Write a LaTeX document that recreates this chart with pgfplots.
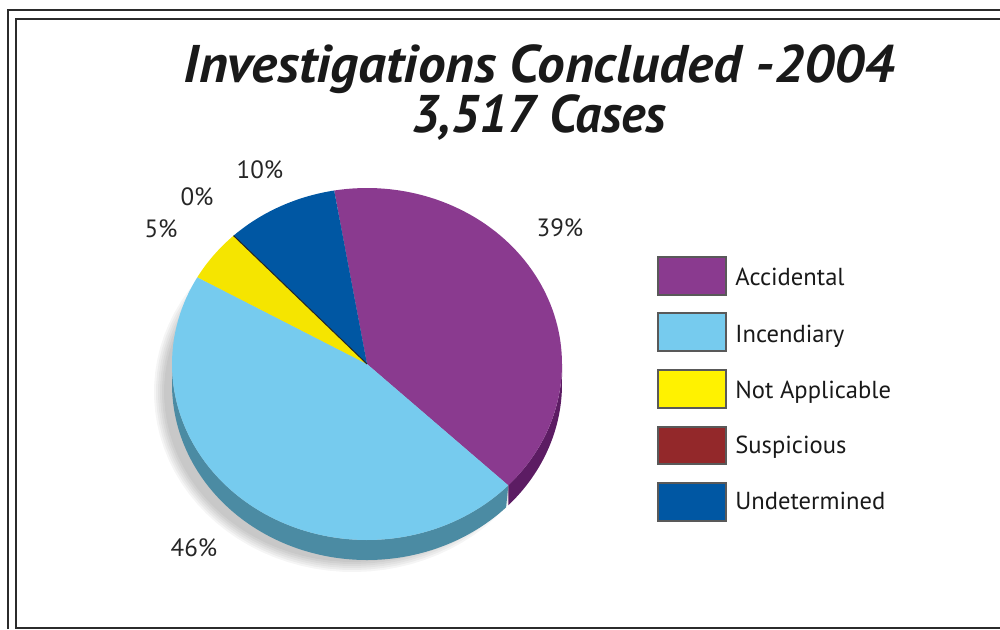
\documentclass[border=0pt]{standalone}
\usepackage{pgfplots}
\pgfplotsset{compat=1.18}
\usepackage{fontspec}
\setmainfont{PT Sans}
\definecolor{cAcc}{HTML}{8A3A8F}
\definecolor{cInc}{HTML}{76CBEE}
\definecolor{cNA}{HTML}{F5E500}
\definecolor{cNAl}{HTML}{FFF200}
\definecolor{cSus}{HTML}{93282A}
\definecolor{cUnd}{HTML}{0057A3}
\definecolor{sAcc}{HTML}{5C1C63}
\definecolor{sInc}{HTML}{4B8BA3}
\definecolor{frm}{HTML}{2B2B2B}
\begin{document}
\begin{tikzpicture}
% data: shares (labels show rounded values)
\def\pAcc{39.8}\def\pInc{46.1}\def\pNA{4.8}\def\pSus{0}\def\pUnd{9.3}
% geometry (pixel units)
\def\cx{367}\def\cy{-364}\def\rx{195}\def\ry{176}\def\th{20}
\pgfmathsetmacro\aO{99.7}
\pgfmathsetmacro\aA{\aO-3.6*\pAcc}
\pgfmathsetmacro\aB{\aA-3.6*\pInc}
\pgfmathsetmacro\aC{\aB-3.6*\pNA}
\pgfmathsetmacro\aD{\aC-3.6*\pSus}
\pgfmathsetmacro\aE{\aD-3.6*\pUnd}
\pgfmathsetmacro\ex{\cx+\rx*cos(\aC)}
\pgfmathsetmacro\ey{\cy+\ry*sin(\aC)}
\begin{axis}[
  scale only axis, width=500pt, height=314.5pt,
  xmin=0, xmax=1000, ymin=-629, ymax=0,
  hide axis, clip=false,
]
% frame
\addplot[draw=frm, line width=1pt] coordinates {(8,-629) (8,-10) (1000,-10)};
\addplot[draw=frm, line width=1pt] coordinates {(1000,-19) (16,-19) (16,-628) (1000,-628)};
% shadow
\foreach \k in {0,...,5}{
  \addplot[draw=none, fill=black, fill opacity=0.04, domain=0:360, samples=90, variable=\t]
    ({\cx-14+(\rx-6+2*\k)*cos(\t)},{\cy-28+(\ry-6+2*\k)*sin(\t)});
}
% sides
\addplot[draw=none, fill=sInc, domain=0:2, samples=301, variable=\s]
  ({\cx+\rx*cos(ifthenelse(\s<=1, -180+(\aA+180)*\s, \aA-(\aA+180)*(\s-1)))},
   {\cy+\ry*sin(ifthenelse(\s<=1, -180+(\aA+180)*\s, \aA-(\aA+180)*(\s-1)))-\th*(\s>1)}) -- cycle;
\addplot[draw=none, fill=sAcc, domain=0:2, samples=201, variable=\s]
  ({\cx+\rx*cos(ifthenelse(\s<=1, \aA+(0-\aA)*\s, 0-(0-\aA)*(\s-1)))},
   {\cy+\ry*sin(ifthenelse(\s<=1, \aA+(0-\aA)*\s, 0-(0-\aA)*(\s-1)))-\th*(\s>1)}) -- cycle;
% top faces
\addplot[draw=none, fill=cAcc, domain=\aA:\aO, samples=80, variable=\t]
  ({\cx+\rx*cos(\t)},{\cy+\ry*sin(\t)}) -- (axis cs:\cx,\cy) -- cycle;
\addplot[draw=none, fill=cInc, domain=\aB:\aA, samples=90, variable=\t]
  ({\cx+\rx*cos(\t)},{\cy+\ry*sin(\t)}) -- (axis cs:\cx,\cy) -- cycle;
\addplot[draw=none, fill=cNA, domain=\aC:\aB, samples=20, variable=\t]
  ({\cx+\rx*cos(\t)},{\cy+\ry*sin(\t)}) -- (axis cs:\cx,\cy) -- cycle;
\addplot[draw=none, fill=cUnd, domain=\aE:\aD, samples=40, variable=\t]
  ({\cx+\rx*cos(\t)},{\cy+\ry*sin(\t)}) -- (axis cs:\cx,\cy) -- cycle;
% 0% Suspicious slice: a line
\addplot[draw=black!85, line width=0.5pt] coordinates {(\cx,\cy) (\ex,\ey)};
% percent labels
\begin{scope}[font=\fontsize{12.5}{15}\selectfont, text=black!85]
\node[anchor=base] at (axis cs:560,-236) {39\%};
\node[anchor=base] at (axis cs:194,-556) {46\%};
\node[anchor=base] at (axis cs:260,-178) {10\%};
\node[anchor=base] at (axis cs:197,-205) {0\%};
\node[anchor=base] at (axis cs:161,-237) {5\%};
\end{scope}
% legend swatches
\addplot[draw=black!65, line width=0.6pt, fill=cAcc] coordinates {(658,-257) (726,-257) (726,-295) (658,-295)} -- cycle;
\addplot[draw=black!65, line width=0.6pt, fill=cInc] coordinates {(658,-313) (726,-313) (726,-351) (658,-351)} -- cycle;
\addplot[draw=black!65, line width=0.6pt, fill=cNAl] coordinates {(658,-370) (726,-370) (726,-408) (658,-408)} -- cycle;
\addplot[draw=black!65, line width=0.6pt, fill=cSus] coordinates {(658,-427) (726,-427) (726,-464) (658,-464)} -- cycle;
\addplot[draw=black!65, line width=0.6pt, fill=cUnd] coordinates {(658,-483) (726,-483) (726,-521) (658,-521)} -- cycle;
\begin{scope}[font=\fontsize{12.3}{15}\selectfont, text=black!90]
\node[anchor=base west, inner sep=0pt] at (axis cs:735,-285) {Accidental};
\node[anchor=base west, inner sep=0pt] at (axis cs:735,-342) {Incendiary};
\node[anchor=base west, inner sep=0pt] at (axis cs:735,-398) {Not Applicable};
\node[anchor=base west, inner sep=0pt] at (axis cs:735,-453) {Suspicious};
\node[anchor=base west, inner sep=0pt] at (axis cs:735,-509) {Undetermined};
\end{scope}
% title
\node[anchor=base, inner sep=0pt, font=\fontsize{26.5}{30}\selectfont\bfseries\itshape, text=black!90] at (axis cs:539,-82) {\scalebox{1.04}[1]{Investigations Concluded -2004}};
\node[anchor=base, inner sep=0pt, font=\fontsize{26.5}{30}\selectfont\bfseries\itshape, text=black!90] at (axis cs:539,-132) {\scalebox{0.975}[1]{3,517 Cases}};
\end{axis}
\pgfresetboundingbox
\useasboundingbox (current axis.south west) rectangle (current axis.north east);
\end{tikzpicture}
\end{document}
